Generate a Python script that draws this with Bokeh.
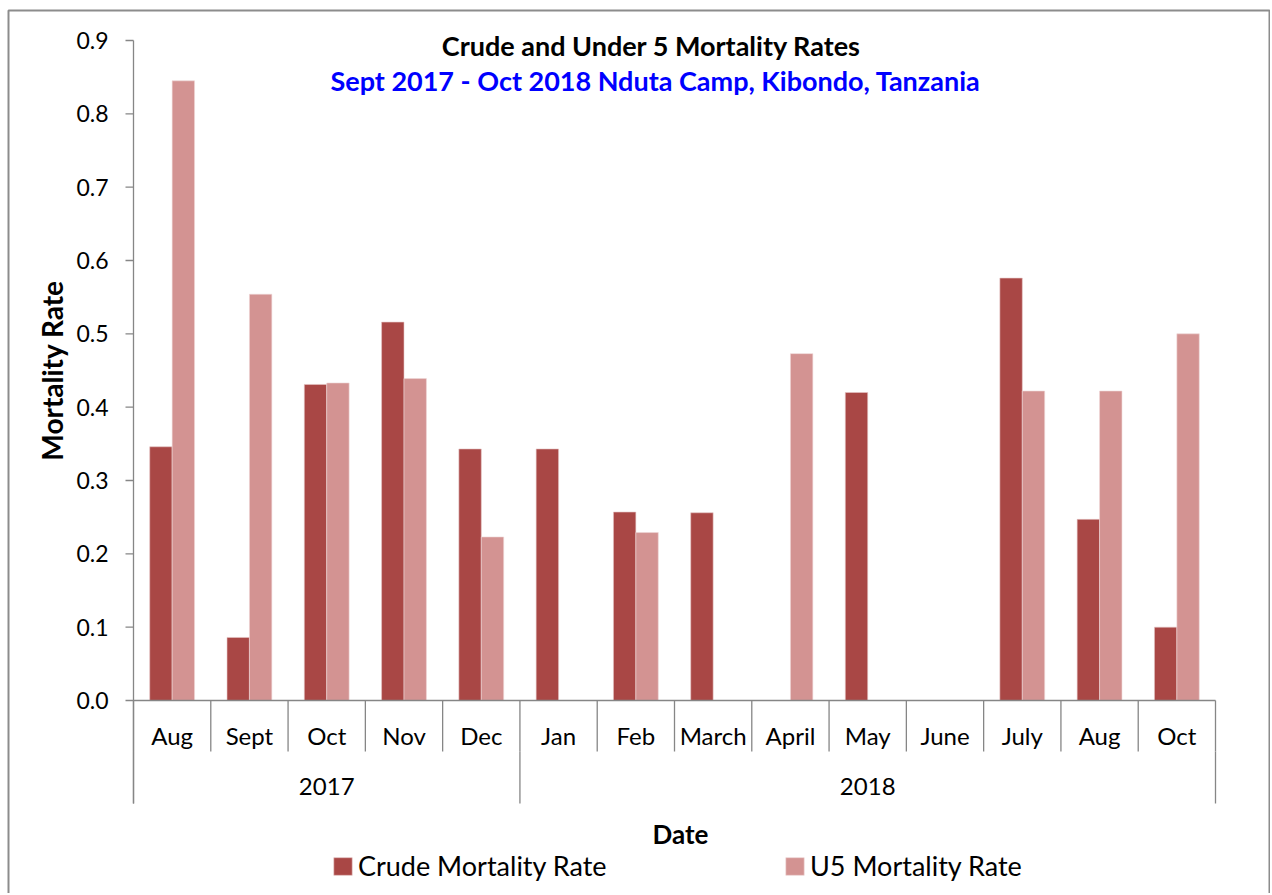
import numpy as np
from bokeh.plotting import figure
from bokeh.models import Range1d, Legend, LegendItem
from bokeh.core.properties import value
from bokeh.embed import file_html
from bokeh.resources import INLINE

# ---------------- data ----------------
months = ["Aug", "Sept", "Oct", "Nov", "Dec", "Jan", "Feb", "March",
          "April", "May", "June", "July", "Aug", "Oct"]
years = ["2017"] * 5 + ["2018"] * 9
crude = [0.346, 0.086, 0.431, 0.516, 0.343, 0.343, 0.257, 0.256,
         0.0, 0.420, 0.0, 0.576, 0.247, 0.100]
u5 = [0.845, 0.554, 0.433, 0.439, 0.223, 0.0, 0.229, 0.0,
      0.473, 0.0, 0.0, 0.422, 0.422, 0.500]
yticks = [0.0, 0.1, 0.2, 0.3, 0.4, 0.5, 0.6, 0.7, 0.8, 0.9]

title_text = "Crude and Under 5 Mortality Rates"
subtitle_text = "Sept 2017 - Oct 2018 Nduta Camp, Kibondo, Tanzania"
y_title = "Mortality Rate"
x_title = "Date"
series_names = ["Crude Mortality Rate", "U5 Mortality Rate"]
FONT = "Lato"

# ---------------- layout (pixel placement of the drawing) ----------------
W, H = 1270, 893
n = len(months)
X0, X1 = 133.0, 1215.0        # pixel span of the category axis
Y0, YT = 700.0, 40.0          # pixel of value 0 and of the top tick
SX = (X1 - X0) / n
SY = (Y0 - YT) / max(yticks)


def px(xp):
    return (xp - X0) / SX


def py(yp):
    return (Y0 - yp) / SY


grey = "#868686"
centers = np.arange(n) + 0.5
bw = 0.29

p = figure(width=W, height=H, output_backend="svg", toolbar_location=None,
           x_range=Range1d(px(0), px(W)), y_range=Range1d(py(H), py(0)),
           x_axis_type=None, y_axis_type=None,
           min_border=0, min_border_left=0, min_border_right=0,
           min_border_top=0, min_border_bottom=0)
p.outline_line_color = None
p.background_fill_color = "white"
p.border_fill_color = "white"

# outer chart border
p.quad(left=px(8), right=px(1269), top=py(10), bottom=py(H + 10),
       fill_color=None, line_color="#8c8c8c", line_width=2)

# bars
r1 = p.vbar(x=centers - bw / 2, top=crude, width=bw, bottom=0,
            fill_color="#A94745", line_color="#e6c6c6", line_width=0.6)
r2 = p.vbar(x=centers + bw / 2, top=u5, width=bw, bottom=0,
            fill_color="#D39392", line_color="#eed6d6", line_width=0.6)

# value axis
p.segment(x0=0, y0=max(yticks), x1=0, y1=py(803), line_color=grey, line_width=1.3)
p.segment(x0=px(125), y0=yticks, x1=0, y1=yticks, line_color=grey, line_width=1.3)
p.text(x=px(108), y=yticks, text=["%.1f" % t for t in yticks],
       text_font=value(FONT), text_font_size="23px", text_align="right",
       text_baseline="middle", text_color="black")

# category axis (Excel multi-level style)
p.segment(x0=0, y0=0, x1=n, y1=0, line_color=grey, line_width=1.3)
bounds = np.arange(n + 1)
p.segment(x0=bounds, y0=0, x1=bounds, y1=py(751), line_color=grey, line_width=1.3)
ychange = [0] + [i for i in range(1, n) if years[i] != years[i - 1]] + [n]
p.segment(x0=ychange, y0=py(751), x1=ychange, y1=py(803),
          line_color=grey, line_width=1.3)
p.text(x=centers, y=py(735), text=months, text_font=value(FONT),
       text_font_size="24px", text_align="center", text_baseline="middle",
       text_color="black")
ylabels = [years[a] for a in ychange[:-1]]
ycent = [(a + b) / 2 for a, b in zip(ychange[:-1], ychange[1:])]
p.text(x=ycent, y=py(786), text=ylabels, text_font=value(FONT),
       text_font_size="24px", text_align="center", text_baseline="middle",
       text_color="black")

# titles
p.text(x=[px(651)], y=[py(45)], text=[title_text], text_font=value(FONT),
       text_font_size="27px", text_font_style="bold", text_align="center",
       text_baseline="middle", text_color="black")
p.text(x=[px(655)], y=[py(80)], text=[subtitle_text], text_font=value(FONT),
       text_font_size="27px", text_font_style="bold", text_align="center",
       text_baseline="middle", text_color="#0000FF")
p.text(x=[px(51)], y=[py(370)], text=[y_title], angle=np.pi / 2,
       text_font=value(FONT), text_font_size="28px", text_font_style="bold",
       text_align="center", text_baseline="middle", text_color="black")
p.text(x=[px(680)], y=[py(833)], text=[x_title], text_font=value(FONT),
       text_font_size="26px", text_font_style="bold", text_align="center",
       text_baseline="middle", text_color="black")

# legend (two single-item legends, placed like the reference)
for r, name, lx in [(r1, series_names[0], 331), (r2, series_names[1], 783)]:
    lg = Legend(items=[LegendItem(label=name, renderers=[r])],
                location=(lx, H - 882), orientation="horizontal",
                glyph_width=23, glyph_height=22, label_standoff=4,
                padding=0, margin=0, label_height=22,
                border_line_color=None, background_fill_alpha=0,
                label_text_font=FONT, label_text_font_size="27px",
                label_text_color="black")
    p.add_layout(lg)

open("out.html", "w").write(file_html(p, INLINE))
